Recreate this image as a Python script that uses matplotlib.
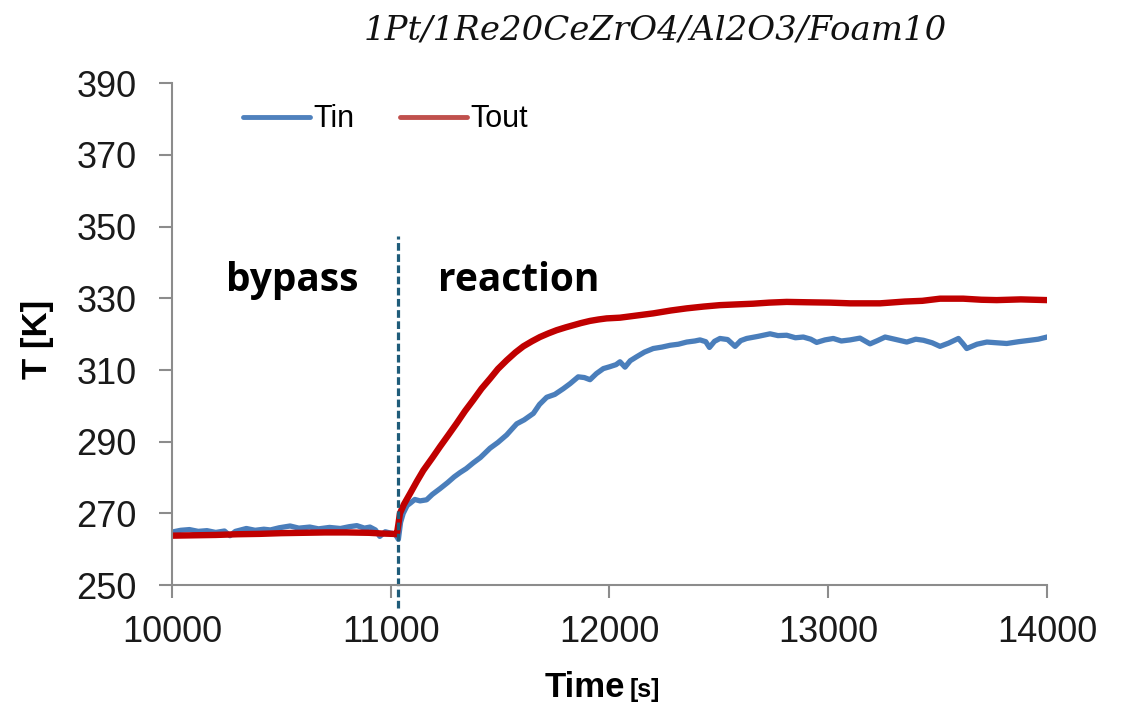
import matplotlib.pyplot as plt
from matplotlib.lines import Line2D

# Tin (blue)
time_in = [10000, 10040, 10080, 10120, 10160, 10200, 10240, 10265, 10290, 10340,
           10380, 10420, 10450, 10490, 10540, 10580, 10630, 10670, 10720, 10770,
           10810, 10845, 10880, 10905, 10930, 10950, 10975, 11000, 11020, 11035,
           11045, 11057, 11075, 11090, 11110, 11134, 11164, 11190, 11225, 11260,
           11290, 11317, 11345, 11377, 11410, 11454, 11490, 11530, 11555, 11576,
           11610, 11652, 11680, 11713, 11750, 11789, 11820, 11857, 11885, 11911,
           11940, 11972, 12000, 12030, 12048, 12071, 12095, 12124, 12160, 12200,
           12240, 12277, 12315, 12353, 12390, 12414, 12440, 12457, 12480, 12505,
           12540, 12574, 12600, 12627, 12680, 12734, 12770, 12810, 12850, 12886,
           12920, 12947, 12985, 13023, 13060, 13100, 13145, 13191, 13225, 13260,
           13310, 13359, 13400, 13435, 13475, 13511, 13550, 13595, 13615, 13633,
           13680, 13725, 13770, 13816, 13870, 13922, 13960, 14000]
t_in = [264.8, 265.3, 265.5, 265.0, 265.2, 264.7, 265.1, 263.8, 265.0, 265.8,
        265.3, 265.6, 265.4, 266.0, 266.5, 265.9, 266.2, 265.7, 266.1, 265.8,
        266.3, 266.6, 265.9, 266.2, 265.4, 263.6, 264.9, 264.5, 264.3, 262.8,
        267.5, 270.0, 272.2, 272.9, 273.9, 273.5, 273.8, 275.3, 276.9, 278.6,
        280.2, 281.4, 282.5, 284.1, 285.6, 288.2, 289.8, 291.9, 293.6, 295.0,
        296.1, 297.9, 300.4, 302.4, 303.2, 304.8, 306.2, 308.1, 307.9, 307.3,
        309.0, 310.4, 310.9, 311.5, 312.3, 310.8, 312.6, 313.7, 315.0, 316.0,
        316.4, 316.9, 317.2, 317.8, 318.1, 318.4, 317.9, 316.3, 318.0, 318.8,
        318.5, 316.6, 318.2, 318.8, 319.4, 320.1, 319.6, 319.7, 319.0, 319.2,
        318.6, 317.7, 318.4, 318.8, 318.1, 318.4, 318.9, 317.3, 318.2, 319.2,
        318.5, 317.8, 318.6, 318.3, 317.6, 316.6, 317.5, 318.8, 317.4, 316.0,
        317.2, 317.8, 317.6, 317.4, 317.9, 318.3, 318.6, 319.2]

# Tout (red)
time_out = [10000, 10100, 10200, 10300, 10400, 10500, 10600, 10700, 10800, 10900,
            10960, 11010, 11028, 11035, 11042, 11060, 11088, 11120, 11149, 11190,
            11225, 11265, 11301, 11340, 11377, 11415, 11454, 11490, 11530, 11570,
            11606, 11645, 11682, 11720, 11758, 11800, 11835, 11870, 11911, 11950,
            11987, 12048, 12124, 12200, 12280, 12353, 12430, 12505, 12580, 12657,
            12730, 12810, 12900, 13008, 13100, 13237, 13350, 13430, 13511, 13617,
            13700, 13770, 13880, 14000]
t_out = [263.8, 263.9, 264.0, 264.2, 264.3, 264.5, 264.6, 264.7, 264.7, 264.6,
         264.4, 264.3, 264.2, 267.0, 270.0, 272.5, 275.5, 279.0, 282.0, 285.5,
         288.6, 292.0, 295.1, 298.6, 301.6, 304.8, 307.6, 310.3, 312.7, 314.9,
         316.6, 318.0, 319.2, 320.2, 321.1, 321.9, 322.5, 323.1, 323.7, 324.1,
         324.4, 324.6, 325.2, 325.8, 326.6, 327.2, 327.7, 328.1, 328.3, 328.5,
         328.8, 329.0, 328.9, 328.8, 328.6, 328.6, 329.1, 329.3, 329.9, 329.9,
         329.6, 329.5, 329.7, 329.5]

x_ticks = [10000, 11000, 12000, 13000, 14000]
y_ticks = [250, 270, 290, 310, 330, 350, 370, 390]
switch_time = 11033

fig = plt.figure(figsize=(11.24, 7.05), dpi=100)
ax = fig.add_axes([0.153, 0.170, 0.7785, 0.712])

ax.plot(time_in, t_in, color='#4a7ebb', lw=3.8, solid_joinstyle='round')
ax.plot(time_out, t_out, color='#c00000', lw=4.6, solid_joinstyle='round')
ax.plot([switch_time, switch_time], [243.5, 347.5], color='#1f5c7a', lw=2.3,
        dashes=(2.4, 1.1), clip_on=False)

ax.set_xlim(10000, 14000)
ax.set_ylim(250, 390)
ax.set_xticks(x_ticks)
ax.set_yticks(y_ticks)
for s in ['top', 'right']:
    ax.spines[s].set_visible(False)
for s in ['left', 'bottom']:
    ax.spines[s].set_color('#8c8c8c')
    ax.spines[s].set_linewidth(1.5)
ax.tick_params(axis='both', color='#8c8c8c', width=1.5, length=9.5,
               labelsize=26, labelcolor='#1a1a1a')
ax.tick_params(axis='y', pad=16)
ax.tick_params(axis='x', pad=12)
for lab in ax.get_xticklabels() + ax.get_yticklabels():
    lab.set_fontfamily('Liberation Sans')

ax.text(10549, 335, 'bypass', fontfamily='Open Sans', fontweight='bold', fontsize=28,
        ha='center', va='center')
ax.text(11586, 335, 'reaction', fontfamily='Open Sans', fontweight='bold', fontsize=28,
        ha='center', va='center')

handles = [Line2D([], [], color='#4f81bd', lw=3.5, solid_capstyle='round'),
           Line2D([], [], color='#c0504d', lw=3.5, solid_capstyle='round')]
ax.legend(handles, ['Tin', 'Tout'], ncol=2, frameon=False, loc='center left',
          bbox_to_anchor=(0.081, 0.928), borderpad=0, borderaxespad=0,
          handlelength=2.2, handletextpad=0.1, columnspacing=1.5,
          prop={'family': 'Liberation Sans', 'size': 22})

fig.text(0.583, 0.957, '1Pt/1Re20CeZrO4/Al2O3/Foam10', fontfamily='DejaVu Serif',
         fontstyle='italic', fontsize=24.5, ha='center', va='center', color='#111111')
fig.text(0.033, 0.518, 'T [K]', fontfamily='Liberation Sans', fontweight='bold',
         fontsize=25, rotation=90, ha='center', va='center')
fig.text(545 / 1124, 1 - 697 / 705, 'Time', fontfamily='Liberation Sans',
         fontweight='bold', fontsize=25, ha='left', va='baseline')
fig.text(630 / 1124, 1 - 697 / 705, '[s]', fontfamily='Liberation Sans',
         fontweight='bold', fontsize=18, ha='left', va='baseline')

fig.savefig('out.png', dpi=100)
